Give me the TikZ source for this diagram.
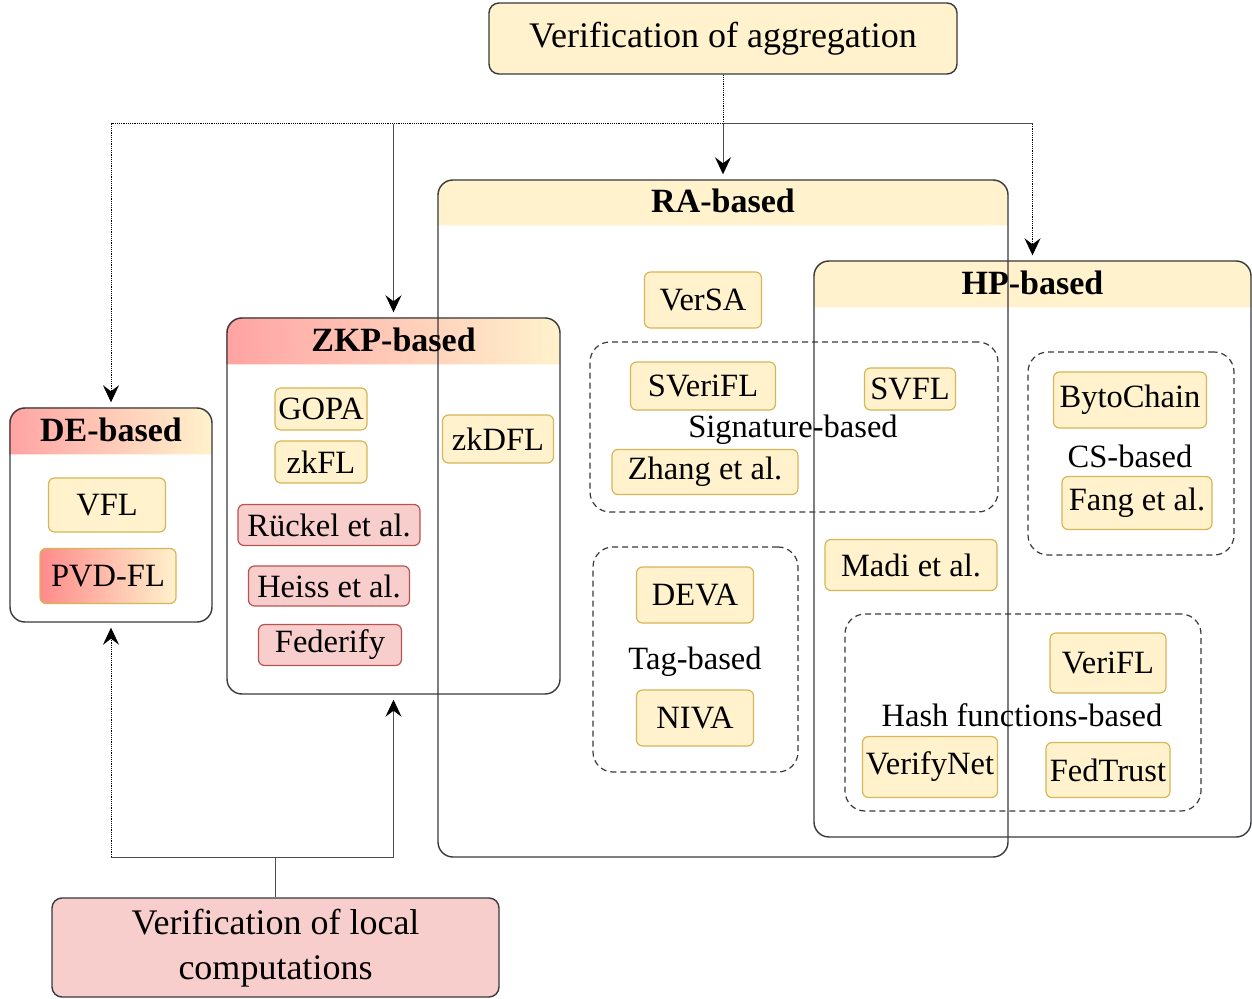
\documentclass[tikz,border=0pt]{standalone}
\usepackage{fontspec}
\setmainfont{Liberation Serif}
\usetikzlibrary{arrows.meta,positioning}
\pgfdeclarelayer{background}
\pgfsetlayers{background,main}

\definecolor{note}{HTML}{FFF2CC}
\definecolor{noteline}{HTML}{D6B656}
\definecolor{pinkfill}{HTML}{F8CECC}
\definecolor{pinkline}{HTML}{B85450}
\definecolor{headred}{HTML}{FFA3A3}
\definecolor{boxline}{HTML}{36393D}
\definecolor{connline}{HTML}{4D4D4D}

\newcommand{\itemfont}{\fontsize{16.25}{19}\selectfont}
\newcommand{\grouptitlefont}{\fontsize{17}{20}\selectfont\bfseries}
\newcommand{\bigboxfont}{\fontsize{18}{22.5}\selectfont}

\tikzset{
  paper/.style={draw=noteline, fill=note, rounded corners=3pt, line width=0.6pt, inner sep=0pt, font=\itemfont},
  redpaper/.style={paper, draw=pinkline, fill=pinkfill},
  groupbox/.style={draw=boxline, rounded corners=7.5pt, line width=0.7pt, inner sep=0pt},
  subgroup/.style={draw=boxline, dash pattern=on 3pt off 2pt, rounded corners=10pt, line width=0.6pt, inner sep=0pt},
  grouptitle/.style={font=\grouptitlefont, inner sep=0pt},
  sublabel/.style={font=\itemfont, inner sep=0pt, yshift=-1pt},
  bigbox/.style={draw=boxline, rounded corners=5pt, line width=0.7pt, align=center, font=\bigboxfont, inner sep=0pt},
  conn/.style={draw=connline, line width=0.5pt},
  dotconn/.style={conn, draw=black, dash pattern=on 0.6pt off 0.5pt},
  arrowtip/.style={-{Stealth[length=8.5pt,width=8pt,inset=3pt,color=black]}, shorten >=2.5pt},
}

\begin{document}
\begin{tikzpicture}[x=0.5pt, y=-0.5pt]
\useasboundingbox (0,0) rectangle (1252,999);

% top and bottom boxes
\node[bigbox, fill=note, minimum width=234pt, minimum height=35.5pt] (agg) at (723,38.5) {Verification of aggregation};
\node[bigbox, fill=pinkfill, minimum width=223.5pt, minimum height=49.5pt] (local) at (275.5,947.5) {\raisebox{-2pt}{\begin{tabular}{@{}c@{}}Verification of local\\computations\end{tabular}}};

% group boxes
\node[groupbox, minimum width=101pt, minimum height=107pt] (de) at (111,515) {};
\node[groupbox, minimum width=166.5pt, minimum height=188pt] (zkp) at (393.5,506) {};
\node[groupbox, minimum width=218.5pt, minimum height=288pt] (hp) at (1032.5,549) {};
\node[groupbox, minimum width=285pt, minimum height=338.5pt] (ra) at (723,518.5) {};

\begin{pgfonlayer}{background}
\shade[left color=headred, right color=note] ([yshift=-23.5pt]de.north west) [rounded corners=7.5pt] -- (de.north west) -- (de.north east) [sharp corners] -- ([yshift=-23.5pt]de.north east) -- cycle;
\shade[left color=headred, right color=note] ([yshift=-23.5pt]zkp.north west) [rounded corners=7.5pt] -- (zkp.north west) -- (zkp.north east) [sharp corners] -- ([yshift=-23.5pt]zkp.north east) -- cycle;
\fill[note] ([yshift=-23pt]ra.north west) [rounded corners=7.5pt] -- (ra.north west) -- (ra.north east) [sharp corners] -- ([yshift=-23pt]ra.north east) -- cycle;
\fill[note] ([yshift=-23.5pt]hp.north west) [rounded corners=7.5pt] -- (hp.north west) -- (hp.north east) [sharp corners] -- ([yshift=-23.5pt]hp.north east) -- cycle;
\end{pgfonlayer}

\node[grouptitle] (detitle) at ([yshift=-11.5pt]de.north) {DE-based};
\node[grouptitle] (zkptitle) at ([yshift=-11.5pt]zkp.north) {ZKP-based};
\node[grouptitle] (ratitle) at ([yshift=-11pt]ra.north) {RA-based};
\node[grouptitle] (hptitle) at ([yshift=-11.5pt]hp.north) {HP-based};

% dashed sub groups
\node[subgroup, minimum width=204pt, minimum height=85pt] (sig) at (794,427) {};
\node[subgroup, minimum width=102.5pt, minimum height=112.5pt] (tag) at (695.5,659.5) {};
\node[subgroup, minimum width=103pt, minimum height=101.5pt] (cs) at (1131,453.5) {};
\node[subgroup, minimum width=178pt, minimum height=98.5pt] (hash) at (1023,712.5) {};
\node[sublabel] (siglabel) at (793,428) {Signature-based};
\node[sublabel] (taglabel) at (695,660) {Tag-based};
\node[sublabel] (cslabel) at (1130,454) {CS-based};
\node[sublabel] (hashlabel) at (1022,713) {Hash functions-based};

% DE-based
\node[paper, minimum width=58.5pt, minimum height=27pt] (vfl) at (107,505) {VFL};
\node[paper, left color=headred!85!red, right color=note, minimum width=68pt, minimum height=27.5pt] (pvdfl) at (108,576) {PVD-FL};

% ZKP-based
\node[paper, minimum width=46pt, minimum height=21pt] (gopa) at (321,409) {GOPA};
\node[paper, minimum width=46pt, minimum height=21pt] (zkfl) at (321,462) {zkFL};
\node[redpaper, minimum width=91pt, minimum height=20.5pt] (ruckel) at (329,525) {Rückel et al.};
\node[redpaper, minimum width=80.5pt, minimum height=20pt] (heiss) at (329,586) {Heiss et al.};
\node[redpaper, minimum width=71.5pt, minimum height=20.5pt] (federify) at (330,645) {Federify};
\node[paper, minimum width=55.5pt, minimum height=24pt] (zkdfl) at (498,439) {zkDFL};

% RA-based
\node[paper, minimum width=58.5pt, minimum height=28pt] (versa) at (703,300) {VerSA};
\node[paper, minimum width=72.5pt, minimum height=24pt] (sverifl) at (703,386) {SVeriFL};
\node[paper, minimum width=45.5pt, minimum height=21pt] (svfl) at (910,389) {SVFL};
\node[paper, minimum width=93pt, minimum height=22.5pt] (zhang) at (705,472) {Zhang et al.};
\node[paper, minimum width=58.5pt, minimum height=28pt] (deva) at (695,595) {DEVA};
\node[paper, minimum width=58.5pt, minimum height=28pt] (niva) at (695,718) {NIVA};
\node[paper, minimum width=86pt, minimum height=25.5pt] (madi) at (911,565) {Madi et al.};

% HP-based
\node[paper, minimum width=76.5pt, minimum height=28pt] (bytochain) at (1130,400) {BytoChain};
\node[paper, minimum width=75pt, minimum height=26.5pt] (fang) at (1137,503) {Fang et al.};
\node[paper, minimum width=58pt, minimum height=30pt] (verifl) at (1108,663) {VeriFL};
\node[paper, minimum width=67.5pt, minimum height=30.5pt] (verifynet) at (930,767) {VerifyNet};
\node[paper, minimum width=62pt, minimum height=27.5pt] (fedtrust) at (1108,770) {FedTrust};

% connectors from the top
\coordinate (split) at (723,124);
\draw[dotconn] (agg.south) -- (split);
\draw[dotconn, arrowtip] (split) -| (de.north);
\draw[conn, arrowtip] (zkp.north |- split) -- (zkp.north);
\draw[conn, arrowtip] (split) -- (ra.north);
\draw[conn] (split) -- (hp.north |- split);
\draw[dotconn, arrowtip] (hp.north |- split) -- (hp.north);

% connectors from the bottom
\coordinate (join) at (275.5,857);
\draw[conn] (local.north) -- (join);
\draw[conn, arrowtip] (join) -| (zkp.south);
\draw[conn] (join) -- (de.south |- join);
\draw[dotconn, arrowtip] (de.south |- join) -- (de.south);
\end{tikzpicture}
\end{document}
